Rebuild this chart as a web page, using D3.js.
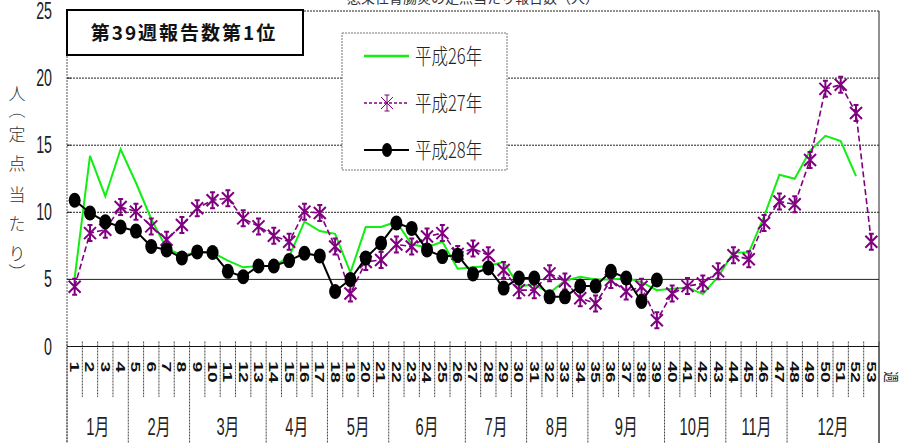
<!DOCTYPE html>
<html lang="ja">
<head>
<meta charset="utf-8">
<script src="https://cdn.jsdelivr.net/npm/d3@7"></script>
<style>
  html, body { margin: 0; padding: 0; background: #fff; }
  svg { display: block; }
  .narrow { font-family: "Liberation Sans", Arial, "Noto Sans CJK JP", sans-serif; fill: #222; }
  .cjk { font-family: "Noto Sans CJK JP", sans-serif; }
</style>
</head>
<body>
<svg id="chart" width="901" height="443"></svg>
<script>
// Weekly reports per sentinel site, three seasons
const weeks = d3.range(1, 54);
const seriesNames = ["平成26年", "平成27年", "平成28年"];
const h26 = [5.1, 14.2, 11.2, 14.7, 12.2, 9.5, 7.3, 6.8, 7.0, 7.0, 6.4, 5.9, 6.0, 6.0, 6.7, 9.3, 8.6, 8.4, 5.5, 8.9,
             8.9, 9.3, 7.6, 7.4, 7.8, 5.8, 5.9, 6.0, 6.3, 4.5, 4.6, 4.0, 4.9, 5.2, 5.0, 5.0, 5.1, 4.8, 4.2, 4.3,
             4.4, 3.9, 5.2, 7.0, 7.0, 9.7, 12.8, 12.5, 14.6, 15.7, 15.3, 12.7];
const h27 = [4.45, 8.45, 8.7, 10.4, 10.05, 8.95, 7.95, 9.05, 10.3, 10.9, 11.05, 9.55, 8.95, 8.25, 7.8, 10.05, 9.95, 7.45, 3.95, 6.3,
             6.45, 7.6, 7.45, 8.2, 8.45, 6.9, 7.3, 6.8, 5.7, 4.2, 4.2, 5.45, 4.85, 3.6, 3.2, 4.95, 4.1, 4.45, 1.95, 3.95,
             4.5, 4.7, 5.6, 6.8, 6.5, 9.2, 10.8, 10.6, 13.9, 19.2, 19.5, 17.4, 7.8];
const h28 = [10.9, 9.95, 9.3, 8.9, 8.6, 7.45, 7.2, 6.6, 7.05, 7.0, 5.6, 5.2, 6.0, 6.0, 6.4, 6.95, 6.75, 4.1, 5.0, 6.6,
             7.7, 9.2, 8.8, 7.2, 6.7, 6.8, 5.4, 5.85, 4.35, 5.1, 5.1, 3.7, 3.7, 4.5, 4.5, 5.6, 5.1, 3.35, 4.95];
const yTicks = [0, 5, 10, 15, 20, 25];
const monthLabels = ["1月", "2月", "3月", "4月", "5月", "6月", "7月", "8月", "9月", "10月", "11月", "12月"];
const monthLastWeek = [4, 8, 13, 17, 21, 26, 30, 34, 39, 43, 47, 53];
const yAxisTitle = ["人", "（", "定", "点", "当", "た", "り", "）"];
const badgeText = "第39週報告数第1位";
const topTitle = "感染性胃腸炎の定点当たり報告数（人）";

const svg = d3.select("#chart");
const plotLeft = 67, plotRight = 879, plotTop = 11, plotBottom = 346.5;

const x = d3.scaleBand().domain(weeks).range([plotLeft, plotRight]);
const y = d3.scaleLinear().domain([0, 25]).range([plotBottom, plotTop]);
const cx = w => x(w) + x.bandwidth() / 2;
const edge = k => plotLeft + k * x.bandwidth();   // boundary after week k

// heading above the plot, mostly outside the page
svg.append("text").attr("class", "cjk")
  .attr("x", 473).attr("y", 2.5).attr("text-anchor", "middle")
  .attr("font-size", 14).attr("fill", "#333").text(topTitle);

// horizontal gridlines
svg.append("g").selectAll("line").data(yTicks.filter(t => t > 0)).join("line")
  .attr("x1", plotLeft).attr("x2", plotRight)
  .attr("y1", d => y(d)).attr("y2", d => y(d))
  .attr("stroke", "#222").attr("stroke-width", 1)
  .attr("stroke-dasharray", d => d === 5 ? null : "2,1");

// plot frame
svg.append("line").attr("x1", plotLeft).attr("x2", plotLeft).attr("y1", plotTop).attr("y2", 443)
  .attr("stroke", "#555").attr("stroke-dasharray", "2,1");
svg.append("line").attr("x1", plotRight).attr("x2", plotRight).attr("y1", plotTop).attr("y2", 443)
  .attr("stroke", "#222");
svg.append("line").attr("x1", plotLeft).attr("x2", plotRight).attr("y1", plotBottom).attr("y2", plotBottom)
  .attr("stroke", "#111").attr("stroke-width", 1.2);

// y tick marks and labels
svg.append("g").selectAll("line").data(yTicks).join("line")
  .attr("x1", plotLeft).attr("x2", plotLeft + 4).attr("y1", d => y(d)).attr("y2", d => y(d))
  .attr("stroke", "#222");
svg.append("g").selectAll("text").data(yTicks).join("text")
  .attr("class", "narrow")
  .attr("transform", d => `translate(52,${y(d) + 8}) scale(0.62,1)`)
  .attr("text-anchor", "end").attr("font-size", 23)
  .text(d => d);

// y axis title, set vertically one character at a time; brackets turned to vertical form
const titleY = [92, 110, 133, 162, 193, 222, 252, 272];
svg.append("g").selectAll("text").data(yAxisTitle).join("text")
  .attr("class", "cjk")
  .attr("transform", (d, i) => (d === "（" || d === "）")
    ? `translate(17,${titleY[i]}) rotate(90)`
    : `translate(17,${titleY[i]})`)
  .attr("text-anchor", "middle").attr("dominant-baseline", "central")
  .attr("font-size", 17).attr("font-weight", 300)
  .attr("fill", "#333").text(d => d);

// week grid below the axis
const weekEdges = d3.range(0, 54);
const isMonthEdge = k => k === 0 || monthLastWeek.includes(k);
svg.append("g").selectAll("line").data(weekEdges).join("line")
  .attr("x1", edge).attr("x2", edge)
  .attr("y1", plotBottom - 5)
  .attr("y2", k => isMonthEdge(k) ? 443 : 397)
  .attr("stroke", "#444").attr("stroke-dasharray", k => k === 53 ? null : "2,1");

// week numbers, rotated
svg.append("g").selectAll("text").data(weeks).join("text")
  .attr("transform", w => `translate(${cx(w)},${w < 10 ? 367 : 372}) rotate(90) scale(1.55,1)`)
  .attr("text-anchor", "middle").attr("dominant-baseline", "central")
  .attr("font-family", "Liberation Sans, Arial, sans-serif")
  .attr("font-weight", "bold").attr("font-size", 12.5).attr("fill", "#111")
  .text(w => w);

// month names
svg.append("g").selectAll("text").data(monthLabels).join("text")
  .attr("class", "narrow")
  .attr("transform", (m, i) => {
    const a = i === 0 ? 0 : monthLastWeek[i - 1];
    const b = monthLastWeek[i];
    return `translate(${(edge(a) + edge(b)) / 2},435) scale(0.64,1)`;
  })
  .attr("text-anchor", "middle").attr("font-size", 23).text(d => d);

// 週 unit label
svg.append("text").attr("class", "narrow")
  .attr("transform", "translate(891,377) rotate(90) scale(0.75,1)")
  .attr("text-anchor", "middle").attr("dominant-baseline", "central")
  .attr("font-size", 15).text("週");

// series lines
const line = d3.line().x((d, i) => cx(i + 1)).y(d => y(d));

svg.append("path").datum(h26).attr("d", line)
  .attr("fill", "none").attr("stroke", "#11ee11").attr("stroke-width", 2);

svg.append("path").datum(h27).attr("d", line)
  .attr("fill", "none").attr("stroke", "#800080").attr("stroke-width", 1.6)
  .attr("stroke-dasharray", "6,3");

const star = "M0,-8V8M-6,-6L6,6M6,-6L-6,6M-2.5,-8H2.5M-2.5,8H2.5";
svg.append("g").selectAll("path").data(h27).join("path")
  .attr("transform", (d, i) => `translate(${cx(i + 1)},${y(d)})`)
  .attr("d", star).attr("fill", "none")
  .attr("stroke", "#800080").attr("stroke-width", 2);

svg.append("path").datum(h28).attr("d", line)
  .attr("fill", "none").attr("stroke", "#000").attr("stroke-width", 2);
svg.append("g").selectAll("ellipse").data(h28).join("ellipse")
  .attr("cx", (d, i) => cx(i + 1)).attr("cy", d => y(d))
  .attr("rx", 6).attr("ry", 7.5).attr("fill", "#000");

// badge box
svg.append("rect").attr("x", 67).attr("y", 10).attr("width", 236).attr("height", 45)
  .attr("fill", "#fff").attr("stroke", "#000").attr("stroke-width", 2);
svg.append("text").attr("class", "cjk")
  .attr("x", 184).attr("y", 40).attr("text-anchor", "middle")
  .attr("font-size", 19).attr("font-weight", "bold").attr("letter-spacing", 2)
  .attr("fill", "#111").text(badgeText);

// legend
const lg = svg.append("g");
lg.append("rect").attr("x", 342).attr("y", 33).attr("width", 165).attr("height", 137)
  .attr("fill", "#fff").attr("stroke", "#777").attr("stroke-dasharray", "2,1");
const rows = [56, 103, 150];
lg.append("line").attr("x1", 364).attr("x2", 409).attr("y1", rows[0]).attr("y2", rows[0])
  .attr("stroke", "#11ee11").attr("stroke-width", 2.5);
lg.append("line").attr("x1", 364).attr("x2", 409).attr("y1", rows[1]).attr("y2", rows[1])
  .attr("stroke", "#800080").attr("stroke-width", 1.6).attr("stroke-dasharray", "3,2");
lg.append("path").attr("transform", `translate(387,${rows[1]})`).attr("d", star)
  .attr("fill", "none").attr("stroke", "#800080").attr("stroke-width", 1);
lg.append("line").attr("x1", 364).attr("x2", 409).attr("y1", rows[2]).attr("y2", rows[2])
  .attr("stroke", "#000").attr("stroke-width", 2);
lg.append("ellipse").attr("cx", 387).attr("cy", rows[2]).attr("rx", 5).attr("ry", 7).attr("fill", "#000");
lg.selectAll("text.lab").data(seriesNames).join("text")
  .attr("class", "lab cjk")
  .attr("transform", (d, i) => `translate(415,${rows[i] + 8}) scale(0.75,1)`)
  .attr("font-size", 22).attr("font-weight", 300).attr("fill", "#222")
  .text(d => d);
</script>
</body>
</html>
